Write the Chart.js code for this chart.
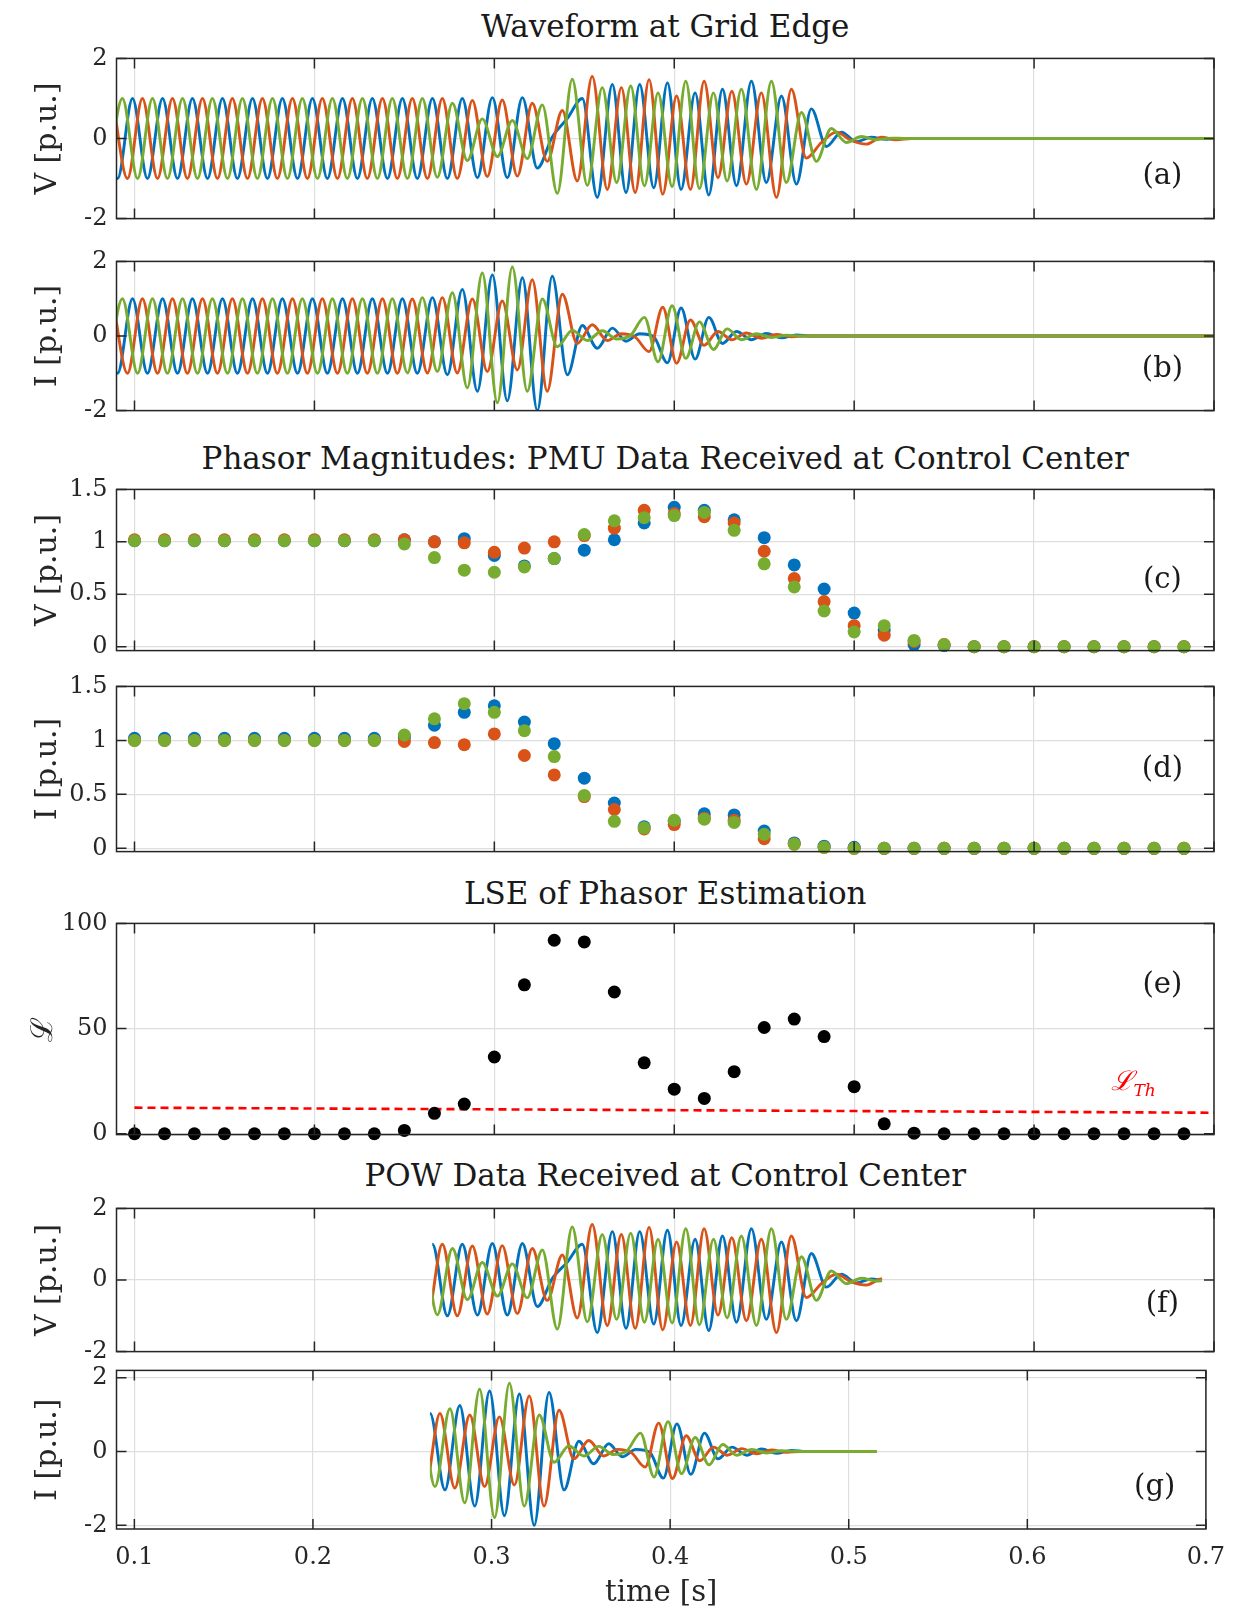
<!DOCTYPE html>
<html><head><meta charset="utf-8">
<script src="https://cdn.jsdelivr.net/npm/chart.js"></script>
<style>
html,body{margin:0;padding:0;background:#fff;}
#fig{position:relative;width:1239px;height:1614px;overflow:hidden;background:#fff;}
.ttl{position:absolute;left:116.5px;width:1097.5px;text-align:center;font-family:'DejaVu Serif',serif;font-size:31px;line-height:36px;color:#1a1a1a;white-space:nowrap;}
canvas{position:absolute;left:0;}
</style></head><body>
<div id="fig">
<div class="ttl" style="top:8px">Waveform at Grid Edge</div>
<div class="ttl" style="top:440px">Phasor Magnitudes: PMU Data Received at Control Center</div>
<div class="ttl" style="top:875px">LSE of Phasor Estimation</div>
<div class="ttl" style="top:1157px">POW Data Received at Control Center</div>
</div>
<script>
// ---------- axis ticks ----------
const xTicks = [0.1, 0.2, 0.3, 0.4, 0.5, 0.6, 0.7];
const waveTicks = [-2, 0, 2];
const magTicks = [0, 0.5, 1, 1.5];
const lseTicks = [0, 50, 100];

// ---------- waveform extrema (time [s]) per phase ----------
const tBlue = [
 0.0822,0.0906,0.0989,0.1072,0.1156,0.1239,0.1322,0.1406,0.1489,0.1572,
 0.1656,0.1739,0.1822,0.1906,0.1989,0.2072,0.2156,0.2239,0.2322,0.2406,
 0.2489,0.2572,0.2656,0.2739,0.2822,0.2906,0.2989,0.3072,0.3156,0.3239,
 0.3322,0.3406,0.3489,0.3572,0.3656,0.3732,0.3808,0.3886,0.3962,0.4038,
 0.4116,0.4192,0.4268,0.4346,0.4429,0.4512,0.4596,0.4679,0.4762,0.4846,
 0.4929,0.5012,0.5096,0.5179,0.5262,0.7];
const tOrange = [
 0.0878,0.0961,0.1044,0.1128,0.1211,0.1294,0.1378,0.1461,0.1544,0.1628,
 0.1711,0.1794,0.1878,0.1961,0.2044,0.2128,0.2211,0.2294,0.2378,0.2461,
 0.2544,0.2628,0.2711,0.2794,0.2878,0.2961,0.3044,0.3128,0.3211,0.3294,
 0.3378,0.3461,0.3544,0.3628,0.3706,0.3783,0.3860,0.3936,0.4013,0.4090,
 0.4166,0.4243,0.4320,0.4401,0.4484,0.4568,0.4651,0.4734,0.4818,0.4901,
 0.4984,0.5068,0.5151,0.5234,0.5318,0.7];
const tGreen = [
 0.0850,0.0933,0.1017,0.1100,0.1183,0.1267,0.1350,0.1433,0.1517,0.1600,
 0.1683,0.1767,0.1850,0.1933,0.2017,0.2100,0.2183,0.2267,0.2350,0.2433,
 0.2517,0.2600,0.2683,0.2767,0.2850,0.2933,0.3017,0.3100,0.3183,0.3267,
 0.3350,0.3433,0.3517,0.3600,0.3680,0.3758,0.3834,0.3910,0.3988,0.4064,
 0.4140,0.4218,0.4294,0.4373,0.4457,0.4540,0.4623,0.4707,0.4790,0.4873,
 0.4957,0.5040,0.5123,0.5207,0.5290,0.7];

// ---------- voltage waveform extrema [p.u.] ----------
const vBlue = [
 1,-1,1,-1,1,-1,1,-1,1,-1,
 1,-1,1,-1,1,-1,1,-1,1,-1,
 1,-1,1,-1,1,-0.98,1.02,-0.98,1.02,-0.74,
 0.04,0.50,1.00,-1.47,1.35,-1.35,1.35,-1.23,1.39,-1.27,
 1.14,-1.41,1.23,-1.18,1.43,-1.10,1.06,-1.14,0.74,-0.20,
 0.16,-0.08,0.03,-0.02,0,0];
const vOrange = [
 1,-1,1,-1,1,-1,1,-1,1,-1,
 1,-1,1,-1,1,-1,1,-1,1,-1,
 1,-1,1,-1,0.95,-0.95,0.96,-0.94,0.88,-0.57,
 0.70,-1.06,1.55,-1.27,1.27,-1.35,1.47,-1.39,1.06,-1.27,
 1.43,-0.98,1.18,-1.14,1.14,-1.47,1.23,-0.49,-0.10,0.16,
 -0.05,-0.14,0.03,-0.03,0,0];
const vGreen = [
 -1,1,-1,1,-1,1,-1,1,-1,1,
 -1,1,-1,1,-1,1,-1,1,-1,1,
 -1,1,-0.97,0.88,-0.55,0.49,-0.45,0.45,-0.50,0.84,
 -1.37,1.48,-1.17,1.27,-1.10,1.31,-1.18,1.14,-1.20,1.43,
 -1.25,1.14,-1.06,1.23,-1.27,1.43,-1.10,0.65,-0.57,0.25,
 -0.10,0.05,-0.03,0.01,0,0];

// ---------- current waveform extrema [p.u.] ----------
const iBlue = [
 1,-1,1,-1,1,-1,1,-1,1,-1,
 1,-1,1,-1,1,-1,1,-1,1,-1,
 1,-1,1.03,-1.04,1.25,-1.48,1.64,-1.74,1.56,-2.0,
 1.60,-1.04,0.28,-0.33,0.21,-0.14,0.06,-0.02,-0.72,0.75,
 -0.62,0.50,-0.20,0.12,-0.10,0.07,-0.05,0.03,0,0,
 0,0,0,0,0,0];
const iOrange = [
 1,-1,1,-1,1,-1,1,-1,1,-1,
 1,-1,1,-1,1,-1,1,-1,1,-1,
 0.99,-0.99,1.03,-0.99,0.99,-0.95,0.94,-0.91,1.51,-1.48,
 1.12,-0.20,0.30,-0.12,0.06,-0.03,-0.42,0.77,-0.73,0.43,
 -0.25,0.12,-0.10,0.08,-0.06,0.04,-0.02,0,0,0,
 0,0,0,0,0,0];
const iGreen = [
 -1,1,-1,1,-1,1,-1,1,-1,1,
 -1,1,-1,1,-1,1,-1,1,-1,1,
 -0.99,1.03,-0.95,1.16,-1.39,1.69,-1.79,1.85,-1.48,0.99,
 -0.29,0.15,-0.12,0.14,-0.08,0.02,0.50,-0.69,0.81,-0.60,
 0.38,-0.36,0.19,-0.10,0.06,-0.04,0.02,0,0,0,
 0,0,0,0,0,0];

// ---------- PMU reports ----------
const pmuTime = [0.1,0.1167,0.1333,0.15,0.1667,0.1833,0.2,0.2167,0.2333,0.25,0.2667,0.2833,0.3,0.3167,0.3333,0.35,0.3667,0.3833,
 0.4,0.4167,0.4333,0.45,0.4667,0.4833,0.5,0.5167,0.5333,0.55,0.5667,0.5833,0.6,0.6167,0.6333,0.65,0.6667,0.6833];
const magVBlue = [1.01,1.01,1.01,1.01,1.01,1.01,1.01,1.01,1.01,
 1.02,1.00,1.03,0.87,0.77,0.84,0.92,1.02,1.18,1.33,1.30,1.21,1.04,0.78,0.55,0.32,0.16,0.02,0.01,
 0,0,0,0,0,0,0,0];
const magVOrange = [1.02,1.02,1.02,1.02,1.02,1.02,1.02,1.02,1.02,
 1.02,1.00,0.99,0.90,0.94,1.00,1.06,1.13,1.30,1.27,1.24,1.18,0.91,0.65,0.43,0.20,0.11,0.05,0.02,
 0,0,0,0,0,0,0,0];
const magVGreen = [1.01,1.01,1.01,1.01,1.01,1.01,1.01,1.01,1.01,
 0.98,0.85,0.73,0.71,0.76,0.84,1.07,1.20,1.23,1.25,1.28,1.11,0.79,0.57,0.34,0.14,0.20,0.06,0.02,
 0,0,0,0,0,0,0,0];
const magIBlue = [1.02,1.02,1.02,1.02,1.02,1.02,1.02,1.02,1.02,
 1.03,1.14,1.26,1.32,1.17,0.97,0.65,0.42,0.20,0.25,0.32,0.31,0.16,0.05,0.02,0.01,0,0,0,
 0,0,0,0,0,0,0,0];
const magIOrange = [1.0,1.0,1.0,1.0,1.0,1.0,1.0,1.0,1.0,
 0.99,0.98,0.96,1.06,0.86,0.68,0.48,0.36,0.18,0.22,0.28,0.26,0.09,0.04,0.01,0,0,0,0,
 0,0,0,0,0,0,0,0];
const magIGreen = [1.0,1.0,1.0,1.0,1.0,1.0,1.0,1.0,1.0,
 1.05,1.20,1.34,1.26,1.09,0.85,0.49,0.25,0.19,0.26,0.27,0.24,0.13,0.04,0.01,0,0,0,0,
 0,0,0,0,0,0,0,0];
const lse = [0,0,0,0,0,0,0,0,0,
 1.6,9.7,14.1,36.5,70.8,92.0,91.2,67.4,33.7,21.2,16.8,29.5,50.5,54.5,46.2,22.4,4.7,0.3,
 0,0,0,0,0,0,0,0,0];
const lseThTime = [0.1, 0.7];
const lseThValue = [12.4, 10.0];
const powWindow = [0.2655, 0.5155];

// ---------- styling ----------
const COL = {blue:'#0072BD', orange:'#D95319', green:'#77AC30'};
const FONT = "'DejaVu Serif', serif";
const AX = '#262626';
const GRID = '#dedede';
const pts = (xs, ys) => xs.map((x, i) => ({x: x, y: ys[i]}));

function waveSets(b, o, g) {
  return [
    {label:'A', data: pts(tBlue, b), borderColor: COL.blue, order: 2},
    {label:'B', data: pts(tOrange, o), borderColor: COL.orange, order: 1},
    {label:'C', data: pts(tGreen, g), borderColor: COL.green, order: 0}
  ].map(d => Object.assign(d, {borderWidth: 2.9, pointRadius: 0, cubicInterpolationMode: 'monotone', fill: false}));
}
function dotSets(b, o, g) {
  return [
    {label:'A', data: pts(pmuTime, b), color: COL.blue, order: 2},
    {label:'B', data: pts(pmuTime, o), color: COL.orange, order: 1},
    {label:'C', data: pts(pmuTime, g), color: COL.green, order: 0}
  ].map(d => ({label: d.label, data: d.data, order: d.order, showLine: false, pointRadius: 6.5,
      pointBackgroundColor: d.color, pointBorderWidth: 0, borderColor: d.color, clip: false}));
}

function boxPlugin(label, fy, extra) {
  return {
    id: 'matlabBox',
    afterDraw(chart) {
      const {ctx, chartArea: a, scales: {x, y}} = chart;
      ctx.save();
      ctx.lineWidth = 1.5; ctx.strokeStyle = AX;
      const L = 10;
      ctx.beginPath();
      for (const t of x.ticks) { const p = x.getPixelForValue(t.value);
        ctx.moveTo(p, a.bottom); ctx.lineTo(p, a.bottom - L); ctx.moveTo(p, a.top); ctx.lineTo(p, a.top + L); }
      for (const t of y.ticks) { const p = y.getPixelForValue(t.value);
        ctx.moveTo(a.left, p); ctx.lineTo(a.left + L, p); ctx.moveTo(a.right, p); ctx.lineTo(a.right - L, p); }
      ctx.stroke();
      ctx.strokeRect(a.left, a.top, a.right - a.left, a.bottom - a.top);
      ctx.fillStyle = '#1a1a1a'; ctx.font = '29px ' + FONT; ctx.textAlign = 'center'; ctx.textBaseline = 'middle';
      ctx.fillText(label, a.left + 0.953 * (a.right - a.left), a.top + fy * (a.bottom - a.top));
      if (extra) extra(chart);
      ctx.restore();
    }
  };
}
function windowClip(t0, t1) {
  return {
    id: 'windowClip',
    beforeDatasetsDraw(chart) {
      const {ctx, chartArea: a, scales: {x}} = chart;
      const l = x.getPixelForValue(t0), r = x.getPixelForValue(t1);
      ctx.save(); ctx.beginPath(); ctx.rect(l, a.top - 40, r - l, a.bottom - a.top + 80); ctx.clip();
    },
    afterDatasetsDraw(chart) { chart.ctx.restore(); }
  };
}

function panel(o) {
  const fig = document.getElementById('fig');
  const cTop = o.boxTop - 22;
  const cBottom = o.bottomAxis ? 1614 : o.boxBottom + 22;
  const cv = document.createElement('canvas');
  cv.width = 1239; cv.height = cBottom - cTop;
  cv.style.top = cTop + 'px'; cv.style.width = '1239px'; cv.style.height = (cBottom - cTop) + 'px';
  fig.appendChild(cv);
  const xAxisH = o.bottomAxis ? cBottom - o.boxBottom : 0;
  const padBottom = o.bottomAxis ? 0 : cBottom - o.boxBottom;
  const plugins = [];
  if (o.window) plugins.push(windowClip(o.window[0], o.window[1]));
  plugins.push(boxPlugin(o.label, o.fy, o.extra));
  return new Chart(cv, {
    type: 'line',
    data: {datasets: o.datasets},
    options: {
      responsive: false, animation: false, devicePixelRatio: 1, events: [],
      layout: {padding: {left: 0, right: 25, top: o.boxTop - cTop, bottom: padBottom}},
      plugins: {legend: {display: false}, tooltip: {enabled: false}, title: {display: false}},
      scales: {
        x: {type: 'linear', position: 'bottom', min: 0.09, max: 0.7,
          afterBuildTicks: s => { s.ticks = xTicks.map(v => ({value: v})); },
          afterFit: s => { s.height = xAxisH; },
          grid: {color: GRID, lineWidth: 1.2, drawTicks: false},
          border: {display: false},
          ticks: {display: !!o.bottomAxis, autoSkip: false, maxRotation: 0, padding: 14,
            font: {family: FONT, size: 24}, color: AX, callback: v => String(v)},
          title: {display: !!o.bottomAxis, text: 'time [s]', font: {family: FONT, size: 29}, color: AX,
            padding: {top: 0, bottom: 3}}},
        y: {type: 'linear', position: 'left', min: o.yMin, max: o.yMax,
          afterBuildTicks: s => { s.ticks = o.yTicks.map(v => ({value: v})); },
          afterFit: s => { s.width = 116.5; },
          grid: {color: GRID, lineWidth: 1.2, drawTicks: false},
          border: {display: false},
          ticks: {font: {family: FONT, size: 24}, color: AX, padding: 9, callback: v => String(v)},
          title: {display: true, text: o.yLabel, font: {family: FONT, size: 30}, color: AX,
            padding: {top: o.yTitlePad || 30, bottom: 0}}}
      }
    },
    plugins: plugins
  });
}

// (a) voltage waveform
panel({boxTop: 57, boxBottom: 220, yMin: -2, yMax: 2, yTicks: waveTicks, yLabel: 'V [p.u.]',
  label: '(a)', fy: 0.737, datasets: waveSets(vBlue, vOrange, vGreen)});
// (b) current waveform
panel({boxTop: 260, boxBottom: 412, yMin: -2, yMax: 2, yTicks: waveTicks, yLabel: 'I [p.u.]',
  label: '(b)', fy: 0.725, datasets: waveSets(iBlue, iOrange, iGreen)});
// (c) voltage phasor magnitudes
panel({boxTop: 488, boxBottom: 652, yMin: -0.0375, yMax: 1.5, yTicks: magTicks, yLabel: 'V [p.u.]',
  label: '(c)', fy: 0.567, datasets: dotSets(magVBlue, magVOrange, magVGreen)});
// (d) current phasor magnitudes
panel({boxTop: 685, boxBottom: 853, yMin: -0.03, yMax: 1.5, yTicks: magTicks, yLabel: 'I [p.u.]',
  label: '(d)', fy: 0.505, datasets: dotSets(magIBlue, magIOrange, magIGreen)});
// (e) LSE
panel({boxTop: 922, boxBottom: 1136, yMin: -0.4, yMax: 100, yTicks: lseTicks, yLabel: '\u2112', yTitlePad: 26,
  label: '(e)', fy: 0.294,
  datasets: [
    {label: 'LSE', data: pts(pmuTime, lse), showLine: false, pointRadius: 6.5, pointBackgroundColor: '#000',
      pointBorderWidth: 0, borderColor: '#000', clip: false, order: 0},
    {label: 'Threshold', data: pts(lseThTime, lseThValue), borderColor: '#ff0000', borderWidth: 2.6,
      borderDash: [8, 5], pointRadius: 0, order: 1}
  ],
  extra: chart => {
    const {ctx, scales: {x, y}} = chart;
    const px = x.getPixelForValue(0.643), py = y.getPixelForValue(20.6);
    ctx.fillStyle = '#ff0000'; ctx.textAlign = 'left'; ctx.textBaseline = 'alphabetic';
    ctx.font = 'italic 27px ' + FONT;
    ctx.fillText('\u2112', px, py);
    const w = ctx.measureText('\u2112').width;
    ctx.font = 'italic 17px ' + FONT;
    ctx.fillText('Th', px + w, py + 6);
  }});
// (f) POW voltage
panel({boxTop: 1207, boxBottom: 1353, yMin: -2, yMax: 2, yTicks: waveTicks, yLabel: 'V [p.u.]',
  label: '(f)', fy: 0.673, window: powWindow, datasets: waveSets(vBlue, vOrange, vGreen)});
// (g) POW current
panel({boxTop: 1369, boxBottom: 1529, yMin: -2.1, yMax: 2.2, yTicks: waveTicks, yLabel: 'I [p.u.]',
  label: '(g)', fy: 0.737, window: powWindow, bottomAxis: true, datasets: waveSets(iBlue, iOrange, iGreen)});
</script>
</body></html>
